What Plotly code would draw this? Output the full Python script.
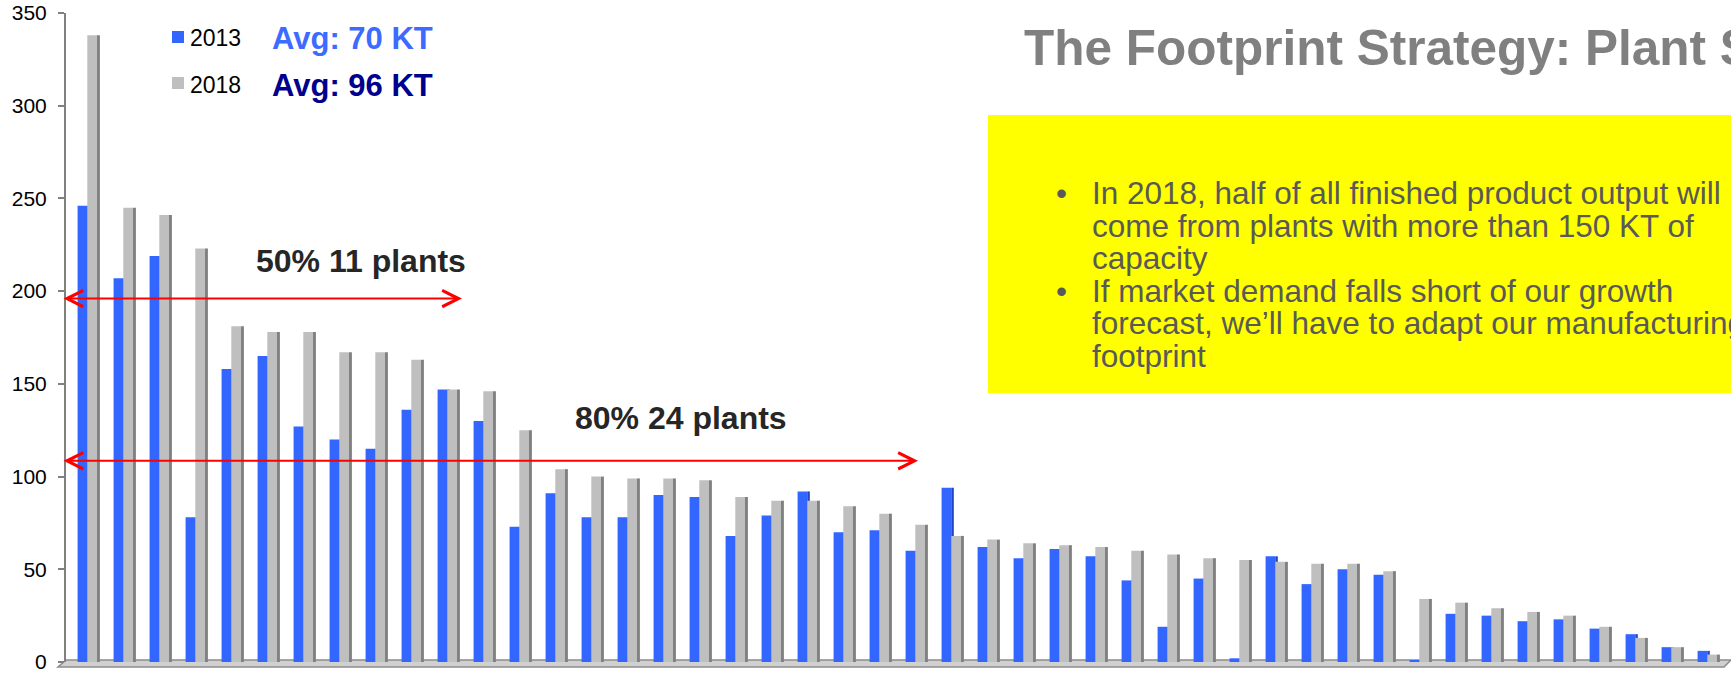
import plotly.graph_objects as go

# Plant output (KT) ranked by 2018 capacity
output_2013 = [246, 207, 219, 78, 158, 165, 127, 120, 115, 136,
               147, 130, 73, 91, 78, 78, 90, 89, 68, 79,
               92, 70, 71, 60, 94, 62, 56, 61, 57, 44,
               19, 45, 2, 57, 42, 50, 47, 1, 26, 25,
               22, 23, 18, 15, 8, 6]
output_2018 = [338, 245, 241, 223, 181, 178, 178, 167, 167, 163,
               147, 146, 125, 104, 100, 99, 99, 98, 89, 87,
               87, 84, 80, 74, 68, 66, 64, 63, 62, 60,
               58, 56, 55, 54, 53, 53, 49, 34, 32, 29,
               27, 25, 19, 13, 8, 4]
plants = list(range(len(output_2018)))
series_names = ["2013", "2018"]
avg_labels = ["Avg: 70 KT", "Avg: 96 KT"]
y_ticks = [0, 50, 100, 150, 200, 250, 300, 350]

title_text = "The Footprint Strategy: Plant S"
bullet_lines = [
    ["In 2018, half of all finished product output will",
     "come from plants with more than 150 KT of",
     "capacity"],
    ["If market demand falls short of our growth",
     "forecast, we\u2019ll have to adapt our manufacturing",
     "footprint"],
]

BLUE = "#3366FF"
BLUE_DARK = "#1F45C8"
GRAY = "#BFBFBF"
GRAY_DARK = "#808080"
FONT = "Liberation Sans, Arial, sans-serif"

W, H = 1731, 675
ML, MR, MT, MB = 66, 0, 13, 13


def fx(px):
    return (px - ML) / (W - ML - MR)


def fy(py):
    return (H - MB - py) / (H - MT - MB)


def cat(px):
    # horizontal pixel -> category units (one category = 36 px, plant 0 at 87.3 px)
    return (px - 87.3) / 36.0


fig = go.Figure()
fig.add_trace(go.Bar(x=plants, y=output_2013, name=series_names[0],
                     marker=dict(color=BLUE, line=dict(width=0)),
                     offset=-0.27, width=0.27))
fig.add_trace(go.Bar(x=plants, y=output_2013, showlegend=False,
                     marker=dict(color=BLUE_DARK, line=dict(width=0)),
                     offset=0.0, width=0.07))
fig.add_trace(go.Bar(x=plants, y=output_2018, name=series_names[1],
                     marker=dict(color=GRAY, line=dict(width=0)),
                     offset=0.0, width=0.27))
fig.add_trace(go.Bar(x=plants, y=output_2018, showlegend=False,
                     marker=dict(color=GRAY_DARK, line=dict(width=0)),
                     offset=0.27, width=0.08))

shapes = []
# chart floor
shapes.append(dict(type="path", xref="paper", yref="paper", layer="below",
                   path=f"M{fx(66)},{fy(660)} L{fx(1731)},{fy(660)} L{fx(1724)},{fy(667)} L{fx(58)},{fy(667)} Z",
                   fillcolor="#D0D0D0", line=dict(color="#8C8C8C", width=1.5)))
# callout box
shapes.append(dict(type="rect", xref="paper", yref="paper", layer="below",
                   x0=fx(988), x1=fx(1740), y0=fy(393), y1=fy(115),
                   fillcolor="#FFFF00", line=dict(width=0)))
# legend swatches
shapes.append(dict(type="rect", xref="paper", yref="paper",
                   x0=fx(172), x1=fx(184), y0=fy(43), y1=fy(31),
                   fillcolor=BLUE, line=dict(width=0)))
shapes.append(dict(type="rect", xref="paper", yref="paper",
                   x0=fx(172), x1=fx(184), y0=fy(89), y1=fy(77),
                   fillcolor=GRAY, line=dict(width=0)))

ann = []


def text_mid(txt, x, mid, size, color, bold=False, anchor="left"):
    label = f"<b>{txt}</b>" if bold else txt
    ann.append(dict(text=label, xref="paper", yref="paper",
                    x=fx(x), y=fy(mid),
                    xanchor=anchor, yanchor="middle", showarrow=False,
                    font=dict(family=FONT, size=size, color=color)))


# legend text and averages
text_mid(series_names[0], 188, 37.5, 23, "#000000")
text_mid(series_names[1], 188, 84.5, 23, "#000000")
text_mid(avg_labels[0], 270, 38.5, 31, "#3D6BFF", bold=True)
text_mid(avg_labels[1], 270, 85.5, 31, "#00008F", bold=True)

# slide title
text_mid(title_text, 1022, 47, 49.5, "#808080", bold=True)

# bullets
centers = [[193, 226, 258], [291, 323, 356]]
for lines, cs in zip(bullet_lines, centers):
    text_mid("\u2022", 1054, cs[0], 31.5, "#595959")
    for line, c in zip(lines, cs):
        text_mid(line, 1090, c, 31.5, "#595959")

# share callouts
text_mid("50% 11 plants", 361, 261, 32, "#262626", bold=True, anchor="center")
text_mid("80% 24 plants", 681, 418, 32, "#262626", bold=True, anchor="center")

# double-headed arrows
for yv, x_end in [(196, 462), (108.5, 918)]:
    ann.append(dict(text="", xref="x", yref="y", axref="x", ayref="y",
                    x=cat(x_end), y=yv, ax=cat(62), ay=yv,
                    showarrow=True, arrowside="end+start",
                    arrowhead=5, startarrowhead=5,
                    arrowsize=1.6, startarrowsize=1.6,
                    arrowwidth=2, arrowcolor="#FF0000",
                    standoff=0, startstandoff=0))

fig.update_layout(
    width=W, height=H,
    margin=dict(l=ML, r=MR, t=MT, b=MB),
    paper_bgcolor="white", plot_bgcolor="white",
    barmode="overlay", showlegend=False,
    shapes=shapes, annotations=ann,
    font=dict(family=FONT),
    xaxis=dict(range=[cat(ML), cat(W)], showticklabels=False, ticks="",
               showgrid=False, zeroline=False, showline=False, fixedrange=True),
    yaxis=dict(range=[0, 350], tickvals=y_ticks, ticks="outside", ticklen=6,
               tickcolor="#808080", tickwidth=1.5,
               showline=True, linecolor="#808080", linewidth=2,
               showgrid=False, zeroline=False,
               tickfont=dict(family=FONT, size=21, color="#000000"),
               ticklabelstandoff=7),
)

fig.write_html("out.html")
